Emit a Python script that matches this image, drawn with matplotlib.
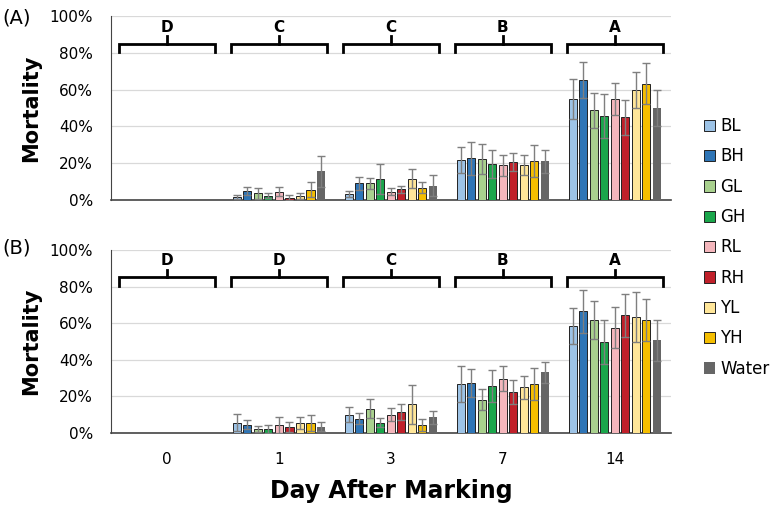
import matplotlib.pyplot as plt
import numpy as np

days = ["0", "1", "3", "7", "14"]
groups = ["BL", "BH", "GL", "GH", "RL", "RH", "YL", "YH", "Water"]
colors = ["#9DC3E6", "#2E75B6", "#A9D18E", "#1AA64B", "#F4B6BC",
          "#C0202A", "#FFE699", "#F5BE00", "#666666"]

# mortality (%) per group, one entry per day
mean_a = {
    "BL":    [0, 1.5, 3.3, 21.8, 54.9],
    "BH":    [0, 4.9, 9.1, 22.7, 65.4],
    "GL":    [0, 3.6, 9.1, 22.3, 48.7],
    "GH":    [0, 2.4, 11.3, 19.4, 45.8],
    "RL":    [0, 4.5, 4.5, 18.9, 54.9],
    "RH":    [0, 1.3, 5.8, 20.7, 44.9],
    "YL":    [0, 2.2, 11.5, 18.9, 59.9],
    "YH":    [0, 5.6, 6.7, 21.1, 63.2],
    "Water": [0, 15.6, 7.8, 21.1, 50.1],
}
err_a = {
    "BL":    [0, 1.0, 1.8, 7.2, 11.0],
    "BH":    [0, 2.2, 3.4, 8.9, 9.7],
    "GL":    [0, 3.1, 2.9, 7.9, 9.6],
    "GH":    [0, 1.2, 8.0, 7.6, 12.0],
    "RL":    [0, 2.4, 1.9, 5.8, 8.7],
    "RH":    [0, 1.2, 1.8, 4.7, 9.4],
    "YL":    [0, 1.4, 5.2, 5.4, 9.7],
    "YH":    [0, 4.0, 2.9, 8.7, 11.1],
    "Water": [0, 8.4, 5.7, 6.3, 9.7],
}
mean_b = {
    "BL":    [0, 5.6, 10.0, 26.7, 58.5],
    "BH":    [0, 4.5, 7.8, 27.3, 66.4],
    "GL":    [0, 2.2, 13.3, 18.2, 61.8],
    "GH":    [0, 2.2, 5.5, 25.6, 49.6],
    "RL":    [0, 4.4, 10.0, 29.6, 57.6],
    "RH":    [0, 3.3, 11.3, 22.2, 64.2],
    "YL":    [0, 5.5, 15.6, 24.9, 63.3],
    "YH":    [0, 5.5, 4.4, 26.7, 61.8],
    "Water": [0, 3.5, 8.5, 33.1, 50.7],
}
err_b = {
    "BL":    [0, 4.6, 4.2, 9.7, 10.0],
    "BH":    [0, 2.4, 3.1, 7.8, 11.6],
    "GL":    [0, 1.4, 5.2, 5.6, 10.2],
    "GH":    [0, 2.0, 2.5, 8.8, 11.9],
    "RL":    [0, 4.5, 3.5, 6.9, 11.4],
    "RH":    [0, 2.5, 4.3, 6.5, 11.8],
    "YL":    [0, 3.4, 10.6, 6.2, 13.6],
    "YH":    [0, 4.5, 3.1, 8.6, 11.5],
    "Water": [0, 2.5, 3.5, 5.8, 11.3],
}
letters_a = ["D", "C", "C", "B", "A"]
letters_b = ["D", "D", "C", "B", "A"]

fig = plt.figure(figsize=(7.71, 5.07), dpi=100)
ax_a = fig.add_axes([0.144, 0.6055, 0.726, 0.363])
ax_b = fig.add_axes([0.144, 0.146, 0.726, 0.361])

x = np.arange(len(days))
step = 0.094
width = 0.072


def draw_panel(ax, means, errs, letters):
    for i, g in enumerate(groups):
        m = np.array(means[g], dtype=float)
        e = np.array(errs[g], dtype=float)
        keep = m > 0
        pos = x[keep] + (i - 4) * step
        edge = "none" if g == "Water" else "#222222"
        ax.bar(pos, m[keep], width, color=colors[i], edgecolor=edge,
               linewidth=0.7, label=g, zorder=3)
        ax.errorbar(pos, m[keep], yerr=e[keep], fmt="none", ecolor="#7f7f7f",
                    elinewidth=1, capsize=3, capthick=1, zorder=4)
    # significance brackets
    for xi, lab in zip(x, letters):
        ax.plot([xi - 0.43, xi - 0.43, xi + 0.43, xi + 0.43],
                [80.5, 85, 85, 80.5], color="black", lw=2, zorder=5,
                solid_joinstyle="miter")
        ax.plot([xi, xi], [85, 89], color="black", lw=2, zorder=5)
        ax.text(xi, 94, lab, ha="center", va="center", fontsize=11,
                fontweight="bold")
    ax.set_xlim(-0.5, len(days) - 0.5)
    ax.set_ylim(0, 100)
    ax.set_yticks(np.arange(0, 101, 20))
    ax.set_yticklabels([f"{v}%" for v in range(0, 101, 20)], fontsize=11)
    ax.yaxis.grid(True, color="#d9d9d9", lw=0.9, zorder=0)
    ax.set_axisbelow(True)
    for s in ["top", "right"]:
        ax.spines[s].set_visible(False)
    ax.spines["left"].set_color("#444444")
    ax.spines["bottom"].set_color("#444444")
    ax.spines["bottom"].set_linewidth(1.2)
    ax.tick_params(axis="y", length=0, pad=13)
    ax.tick_params(axis="x", length=0)
    ax.set_ylabel("Mortality", fontsize=15, fontweight="bold", labelpad=6)


draw_panel(ax_a, mean_a, err_a, letters_a)
draw_panel(ax_b, mean_b, err_b, letters_b)

ax_a.set_xticks(x)
ax_a.set_xticklabels([])
ax_b.set_xticks(x)
ax_b.set_xticklabels(days, fontsize=11)
ax_b.tick_params(axis="x", pad=14)
ax_b.set_xlabel("Day After Marking", fontsize=17, fontweight="bold", labelpad=8)

fig.text(0.003, 0.965, "(A)", fontsize=14, va="center")
fig.text(0.003, 0.51, "(B)", fontsize=14, va="center")

handles, labels = ax_a.get_legend_handles_labels()
fig.legend(handles, labels, loc="center left", bbox_to_anchor=(0.893, 0.512),
           frameon=False, fontsize=12, handlelength=0.66, handleheight=0.66,
           labelspacing=0.74, handletextpad=0.35)

fig.savefig("out.png", dpi=100)
